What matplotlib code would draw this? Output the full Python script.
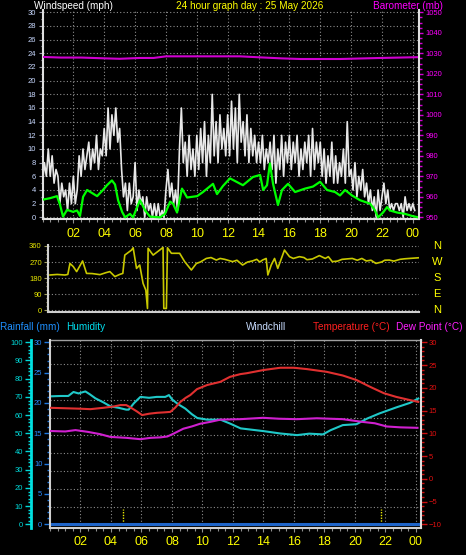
import numpy as np
import matplotlib.pyplot as plt
from matplotlib.ticker import MultipleLocator

plt.rcParams['font.family'] = ['Liberation Sans', 'DejaVu Sans']

# ---- dados ----
hour_labels = ['02', '04', '06', '08', '10', '12', '14', '16', '18', '20', '22', '00']

# rajadas (mph), uma leitura a cada 7.5 min
gust = [5, 8, 6, 10, 6, 9, 5, 7,
        6, 2, 5, 3, 4, 1, 5, 2,
        6, 2, 4, 9, 6, 10, 7, 9,
        11, 7, 10, 8, 12, 7, 10, 9,
        13, 9, 16, 10, 15, 12, 16, 11,
        13, 7, 3, 5, 1, 5, 2, 3,
        8, 1, 4, 2, 3, 0, 3, 1,
        2, 0, 2, 0, 2, 0, 1, 0,
        4, 7, 3, 5, 2, 4, 1, 10,
        16, 8, 11, 6, 12, 7, 10, 6,
        12, 7, 13, 8, 14, 6, 12, 8,
        18, 9, 14, 8, 15, 10, 13, 9,
        15, 9, 17, 10, 16, 8, 18, 11,
        14, 9, 15, 8, 13, 9, 12, 8,
        11, 8, 12, 7, 10, 8, 11, 7,
        12, 5, 10, 7, 12, 6, 11, 8,
        12, 7, 11, 8, 12, 6, 10, 7,
        11, 8, 12, 6, 13, 7, 11, 8,
        11, 6, 10, 5, 9, 6, 11, 5,
        9, 5, 8, 6, 10, 5, 14, 6,
        7, 4, 8, 3, 6, 4, 7, 3,
        5, 2, 4, 1, 3, 0, 4, 1,
        3, 5, 2, 4, 1, 2, 1, 2,
        2, 1, 2, 0, 3, 1, 2, 1,
        2, 1]
gust_hours = np.arange(len(gust)) * 0.125

# velocidade media (mph)
avg_hours = [0.04, 0.49, 0.94, 1.14, 1.33, 1.59, 1.98, 2.24, 2.43, 2.63, 2.89, 3.54, 3.92,
             4.18, 4.5, 4.7, 4.9, 5.16, 5.35, 5.67, 5.87, 6.13, 6.32, 6.65, 6.97, 7.62,
             7.94, 8.27, 8.46, 8.72, 9.04, 9.37, 10.02, 10.4, 11.05, 11.31, 11.7, 12.15,
             12.99, 13.64, 14.1, 14.3, 14.55, 14.74, 14.94, 15.26, 15.52, 15.91, 16.37,
             17.01, 17.53, 17.99, 18.44, 18.96, 19.28, 19.61, 20.06, 20.58, 21.23, 21.55,
             21.75, 22.07, 22.33, 22.52, 22.98, 23.5, 23.95, 24.34]
avg_speed = [2.6, 2.8, 3.1, 1.8, 0.1, 1.1, 0.8, 1.0, 0.2, 3.0, 4.0, 3.1, 4.0,
             4.7, 5.4, 4.8, 2.5, 0.8, 0.0, 0.5, 0.0, 1.5, 2.5, 1.0, 0.1, 0.0,
             0.5, 2.3, 2.0, 0.7, 4.2, 2.9, 3.1, 3.7, 4.9, 3.4, 4.6, 5.7,
             4.7, 5.9, 6.2, 4.0, 4.7, 7.9, 4.9, 1.8, 4.0, 4.9, 3.7,
             4.2, 4.5, 5.2, 4.0, 3.7, 3.2, 4.0, 3.2, 2.5, 2.0, 1.0,
             0.0, 0.7, 1.5, 1.0, 0.7, 0.5, 0.2, 0.0]

# barometro (mb)
baro_hours = [0, 1.2, 2.5, 4.1, 5.0, 6.3, 7.2, 8.0, 10.2, 12.8, 14.1, 15.5, 16.7, 19.3, 21.9, 23.8, 24.4]
baro = [1028.2, 1027.9, 1027.9, 1027.5, 1027.3, 1027.7, 1027.7, 1028.5, 1028.5, 1028.5,
        1028.0, 1027.5, 1027.2, 1027.2, 1027.7, 1028.0, 1028.1]

# direcao do vento (graus)
dir_hours = [0.13, 0.6, 1.11, 1.3, 1.44, 1.66, 1.88, 2.27, 2.53, 2.9, 3.41, 3.8, 4.06, 4.39,
             4.7, 4.91, 5.04, 5.48, 5.59, 5.81, 6.02, 6.24, 6.42, 6.53, 6.57, 6.9, 7.33,
             7.55, 7.6, 7.77, 7.84, 8.1, 8.64, 8.97, 9.41, 9.74, 10.0, 10.39, 10.7, 11.05,
             11.3, 11.6, 12.12, 12.4, 12.77, 13.1, 13.42, 13.7, 13.9, 14.08, 14.32, 14.43,
             14.65, 14.87, 15.08, 15.52, 15.85, 16.1, 16.5, 16.8, 17.0, 17.35, 17.81, 18.2,
             18.4, 18.66, 19.0, 19.3, 19.97, 20.3, 20.6, 20.89, 21.2, 21.52, 21.9, 22.1,
             22.4, 22.7, 23.1, 23.4, 23.71, 24.36]
direction = [197, 200, 197, 200, 262, 244, 216, 276, 206, 205, 199, 210, 216, 188,
             200, 206, 309, 337, 350, 234, 253, 150, 112, 9, 347, 309, 337,
             352, 9, 9, 350, 319, 319, 272, 225, 262, 270, 290, 295, 281,
             290, 285, 272, 280, 253, 270, 276, 285, 270, 281, 290, 197,
             253, 290, 234, 337, 300, 290, 300, 295, 283, 287, 306, 290,
             300, 272, 275, 285, 290, 280, 290, 276, 280, 262, 270, 280,
             281, 275, 285, 288, 290, 294]

# temperatura (C)
temp_hours = [0, 1.0, 2.0, 2.65, 3.5, 4.2, 4.62, 5.0, 5.27, 5.7, 6.04, 6.5, 7.02, 7.5, 7.89,
              8.2, 8.55, 8.9, 9.2, 9.64, 10.3, 11.17, 11.8, 12.48, 12.9, 14.0, 15.1, 16.0,
              16.86, 18.15, 19.2, 20.1, 21.0, 21.9, 22.7, 23.6, 24.15]
temp = [15.6, 15.5, 15.4, 15.3, 15.6, 15.9, 16.2, 16.2, 15.7, 14.8, 14.0, 14.3, 14.5, 14.6, 14.7,
        15.6, 16.9, 17.8, 18.4, 19.7, 20.6, 21.3, 22.4, 23.0, 23.2, 23.9, 24.4, 24.4,
        24.1, 23.5, 22.7, 21.7, 20.2, 18.8, 18.0, 17.3, 16.9]

# umidade (%)
hum_hours = [0, 0.7, 1.2, 1.54, 1.87, 2.32, 2.6, 2.98, 3.5, 3.96, 4.5, 5.0, 5.16, 5.5, 5.93,
             6.5, 7.0, 7.56, 7.8, 8.02, 8.4, 8.87, 9.3, 9.66, 10.3, 11.18, 11.82, 12.5, 14.0,
             15.1, 16.2, 17.0, 17.9, 18.4, 19.2, 20.1, 20.8, 21.6, 22.7, 23.6, 24.15]
humidity = [70.3, 70.5, 70.5, 72.7, 71.9, 73.0, 71.5, 69.2, 67.0, 64.8, 64.0, 63.0, 63.0, 66.5, 70.0,
            69.5, 70.0, 70.0, 71.0, 68.5, 66.0, 63.6, 60.5, 58.4, 57.5, 57.5, 55.3, 52.7, 51.2,
            49.9, 49.0, 49.8, 49.4, 51.7, 54.5, 55.0, 58.1, 60.9, 64.2, 66.7, 69.1]

# ponto de orvalho (C)
dew_hours = [0, 1.0, 1.67, 2.5, 3.3, 3.96, 5.0, 5.93, 6.6, 7.24, 7.7, 8.09, 8.74, 9.3,
             9.85, 10.5, 11.18, 12.48, 13.98, 15.0, 16.2, 17.5, 19.2, 20.5, 21.3, 22.07, 23.0, 24.1]
dew = [10.5, 10.4, 10.7, 10.3, 9.8, 9.2, 9.0, 8.7, 9.0, 9.1, 9.3, 9.9, 11.0, 11.5,
       12.1, 12.5, 13.0, 13.1, 13.4, 13.2, 13.1, 13.3, 13.1, 12.5, 12.2, 11.5, 11.3, 11.2]

# chuva (mm) e nascer/por do sol
rain_hours = [0, 24.33]
rain_mm = [0.0, 0.0]
sun_marks = [4.79, 21.7]

# ---- figura ----
W, H = 466, 555


def caixa(l, t, r, b):
    # converte pixels (esq, topo, dir, baixo) em fracao da figura
    return [l / W, 1 - b / H, (r - l) / W, (b - t) / H]


fig = plt.figure(figsize=(W / 100, H / 100), dpi=100, facecolor='black')
pontilhado = (0, (1, 2))
fs_titulo = 7.2

# Painel de vento + barometro
ax1 = fig.add_axes(caixa(42.5, 10, 419, 219.3), facecolor='black')
ax1.plot(gust_hours, gust, color='#e8e8e8', lw=1.2, zorder=2)
ax1.plot(avg_hours, avg_speed, color='#00ff00', lw=1.6, zorder=3)
ax1.set_xlim(0, 24.4)
ax1.set_ylim(-0.29, 30.34)
ax1.set_yticks(range(0, 31, 2))
ax1.yaxis.set_minor_locator(MultipleLocator(1))
ax1.set_xticks(range(2, 25, 2))
ax1.set_xticklabels(hour_labels)
ax1.xaxis.set_minor_locator(MultipleLocator(0.5))
ax1.tick_params(axis='y', which='both', colors='#9a9aaa', labelcolor='#c8d8ff',
                labelsize=5.5, length=3, width=0.8, pad=1.5)
ax1.tick_params(axis='y', which='minor', length=1.5)
ax1.tick_params(axis='x', which='both', colors='#909090', labelcolor='#ffff00',
                labelsize=9, length=3, width=0.8, pad=3)
ax1.tick_params(axis='x', which='minor', length=2)
ax1.grid(True, color='#8c8c8c', ls=pontilhado, lw=0.8)
ax1.set_axisbelow(True)
for s in ['top', 'right']:
    ax1.spines[s].set_visible(False)
for s in ['left', 'bottom']:
    ax1.spines[s].set_color('#e0e0e0')
    ax1.spines[s].set_linewidth(1.5)

ax1b = ax1.twinx()
ax1b.plot(baro_hours, baro, color='#d000d0', lw=1.5)
ax1b.set_ylim(949.0, 1051.1)
ax1b.set_yticks(range(950, 1051, 10))
ax1b.yaxis.set_minor_locator(MultipleLocator(2.5))
ax1b.tick_params(axis='y', which='both', colors='#d000d0', labelcolor='#ff00ff',
                 labelsize=5.5, length=3, width=1, pad=1.5)
ax1b.tick_params(axis='y', which='minor', length=2)
for s in ['top', 'left', 'bottom']:
    ax1b.spines[s].set_visible(False)
ax1b.spines['right'].set_color('#e0e0e0')
ax1b.spines['right'].set_linewidth(1.5)

fig.text(34 / W, 1 - 6 / H, 'Windspeed (mph)', color='white', fontsize=fs_titulo, va='center', ha='left')
fig.text(250 / W, 1 - 6 / H, '24 hour graph day : 25 May 2026', color='#ffff00', fontsize=fs_titulo,
         va='center', ha='center')
fig.text(443 / W, 1 - 6 / H, 'Barometer (mb)', color='#ff00ff', fontsize=fs_titulo, va='center', ha='right')

# Painel de direcao do vento
ax2 = fig.add_axes(caixa(48, 245, 419, 312), facecolor='black')
ax2.plot(dir_hours, direction, color='#c8c800', lw=1.2)
ax2.set_xlim(0, 24.35)
ax2.set_ylim(-11, 365.6)
ax2.set_yticks([0, 90, 180, 270, 360])
ax2.yaxis.set_minor_locator(MultipleLocator(22.5))
ax2.set_xticks([])
ax2.tick_params(axis='y', which='both', colors='#a0a060', labelcolor='#e8e800',
                labelsize=5.5, length=3, width=0.8, pad=1.5)
ax2.tick_params(axis='y', which='minor', length=1.5)
ax2.grid(True, axis='y', color='#8c8c8c', ls=pontilhado, lw=0.8)
ax2.set_axisbelow(True)
for s in ['top', 'right']:
    ax2.spines[s].set_visible(False)
for s in ['left', 'bottom']:
    ax2.spines[s].set_color('#d0d0d0')
    ax2.spines[s].set_linewidth(1.5)
for val, letra in zip([360, 270, 180, 90, 0], ['N', 'W', 'S', 'E', 'N']):
    ax2.text(1.048, val, letra, transform=ax2.get_yaxis_transform(), color='#ffff00',
             fontsize=8, ha='center', va='center')

# Painel de temperatura / umidade / chuva
ax3 = fig.add_axes(caixa(50, 340, 421, 527.7), facecolor='black')
ax3.set_xlim(0, 24.33)
ax3.set_ylim(-1.87, 101.26)
ax3.plot(hum_hours, humidity, color='#20c8c8', lw=1.5, zorder=3)
for h in sun_marks:
    ax3.plot([h, h], [0, 8.4], color='#e8e800', ls=(0, (1, 1)), lw=1, zorder=2)
ax3.set_xticks(range(2, 25, 2))
ax3.set_xticklabels(hour_labels)
ax3.xaxis.set_minor_locator(MultipleLocator(0.5))
ax3.tick_params(axis='x', which='both', colors='#909090', labelcolor='#ffff00',
                labelsize=9, length=3, width=0.8, pad=3)
ax3.tick_params(axis='x', which='minor', length=2)
ax3.grid(True, axis='x', color='#8c8c8c', ls=pontilhado, lw=0.8)
for k in range(1, 11):
    ax3.axhline(k * 9.77, color='#8c8c8c', ls=pontilhado, lw=0.8, zorder=1)
ax3.set_axisbelow(True)
ax3.set_yticks(range(0, 101, 10))
ax3.yaxis.set_minor_locator(MultipleLocator(2))
ax3.tick_params(axis='y', which='both', colors='#00d8d8', labelcolor='#00d8d8',
                labelsize=5.5, length=4, width=1, pad=1.5)
ax3.tick_params(axis='y', which='minor', length=2)
ax3.spines['left'].set_position(('outward', 14))
ax3.spines['left'].set_color('#00e0e0')
ax3.spines['left'].set_linewidth(2)
ax3.spines['bottom'].set_color('#d0d0d0')
ax3.spines['bottom'].set_linewidth(1.5)
ax3.spines['top'].set_color('#a0a0a0')
ax3.spines['top'].set_linewidth(1)
ax3.spines['right'].set_visible(False)

# eixo da chuva (esquerda, interno)
ax3r = ax3.twinx()
ax3r.plot(rain_hours, rain_mm, color='#1e64c8', lw=2.2)
ax3r.set_ylim(-0.56, 30.38)
ax3r.yaxis.set_ticks_position('left')
ax3r.set_yticks(range(0, 31, 5))
ax3r.yaxis.set_minor_locator(MultipleLocator(1))
ax3r.tick_params(axis='y', which='both', colors='#1e78e0', labelcolor='#2a8cff',
                 labelsize=5.5, length=4, width=1, pad=1.5)
ax3r.tick_params(axis='y', which='minor', length=2)
for s in ['top', 'right', 'bottom']:
    ax3r.spines[s].set_visible(False)
ax3r.spines['left'].set_visible(True)
ax3r.spines['left'].set_color('#d0d0d0')
ax3r.spines['left'].set_linewidth(1.5)

# eixo da temperatura (direita)
ax3t = ax3.twinx()
ax3t.plot(temp_hours, temp, color='#e03030', lw=1.5)
ax3t.plot(dew_hours, dew, color='#d020d0', lw=1.5)
ax3t.set_ylim(-10.75, 30.5)
ax3t.set_yticks(range(-10, 31, 5))
ax3t.yaxis.set_minor_locator(MultipleLocator(1))
ax3t.tick_params(axis='y', which='both', colors='#d01010', labelcolor='#e01010',
                 labelsize=5.5, length=4, width=1, pad=1.5)
ax3t.tick_params(axis='y', which='minor', length=2)
for s in ['top', 'left', 'bottom']:
    ax3t.spines[s].set_visible(False)
ax3t.spines['right'].set_color('#e0e0e0')
ax3t.spines['right'].set_linewidth(1.5)

fig.text(0 / W, 1 - 327 / H, 'Rainfall (mm)', color='#1e90ff', fontsize=fs_titulo, va='center', ha='left')
fig.text(66 / W, 1 - 327 / H, 'Humidity', color='#00e0f0', fontsize=fs_titulo, va='center', ha='left')
fig.text(246 / W, 1 - 327 / H, 'Windchill', color='#c8dcff', fontsize=fs_titulo, va='center', ha='left')
fig.text(313 / W, 1 - 327 / H, 'Temperature (°C)', color='#ff2020', fontsize=fs_titulo, va='center', ha='left')
fig.text(463 / W, 1 - 327 / H, 'Dew Point (°C)', color='#ff20ff', fontsize=fs_titulo, va='center', ha='right')

fig.savefig('out.png', dpi=100, facecolor='black')
